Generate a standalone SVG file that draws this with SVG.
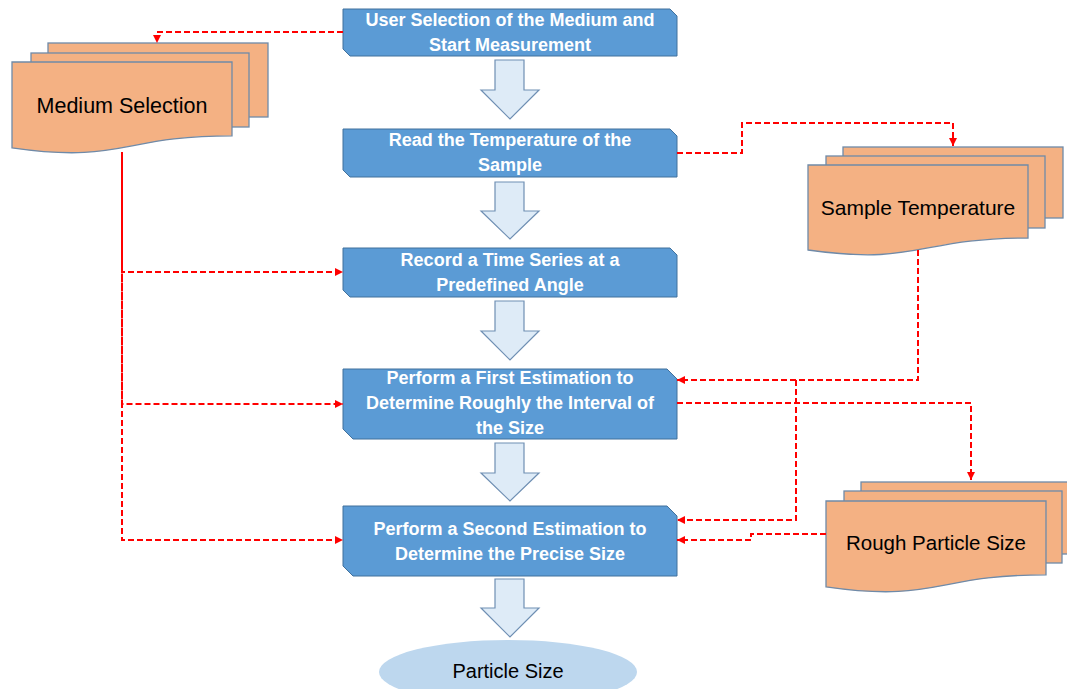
<svg xmlns="http://www.w3.org/2000/svg" width="1067" height="689" viewBox="0 0 1067 689">
  <style>
    .proc { fill: #5b9bd5; stroke: #41719c; stroke-width: 1; }
    .proc-text { font-family: "Liberation Sans", Arial, sans-serif; font-weight: bold; font-size: 18px; fill: #ffffff; text-anchor: middle; }
    .doc { fill: #f4b183; stroke: #6f8aa8; stroke-width: 1.3; }
    .doc-text { font-family: "Liberation Sans", Arial, sans-serif; font-size: 21px; fill: #000000; text-anchor: middle; }
    .flow { fill: #deebf7; stroke: #6f8fb3; stroke-width: 1.2; }
    .link { fill: none; stroke: #ff0000; stroke-width: 2; stroke-dasharray: 6 3; marker-end: url(#redArrow); }
    .term { fill: #bdd7ee; stroke: none; }
  </style>
  <defs>
    <marker id="redArrow" markerUnits="userSpaceOnUse" markerWidth="9" markerHeight="9" refX="8" refY="4" orient="auto">
      <path d="M0,0 L8,4 L0,8 Z" fill="#ff0000"/>
    </marker>
  </defs>

  <rect width="1067" height="689" fill="#ffffff"/>

  <!-- main process column -->
  <g id="step-start">
    <path class="proc" d="M343,9 H670 L677,16 V56 H350 L343,49 Z"/>
    <text class="proc-text" x="510" y="26">User Selection of the Medium and</text>
    <text class="proc-text" x="510" y="51">Start Measurement</text>
  </g>
  <g id="step-temperature">
    <path class="proc" d="M343,129 H670 L677,136 V177 H350 L343,170 Z"/>
    <text class="proc-text" x="510" y="146">Read the Temperature of the</text>
    <text class="proc-text" x="510" y="171">Sample</text>
  </g>
  <g id="step-timeseries">
    <path class="proc" d="M343,248 H670 L677,255 V297 H350 L343,290 Z"/>
    <text class="proc-text" x="510" y="266">Record a Time Series at a</text>
    <text class="proc-text" x="510" y="291">Predefined Angle</text>
  </g>
  <g id="step-first-estimation">
    <path class="proc" d="M343,369 H667 L677,379 V439 H353 L343,429 Z"/>
    <text class="proc-text" x="510" y="384">Perform a First Estimation to</text>
    <text class="proc-text" x="510" y="409">Determine Roughly the Interval of</text>
    <text class="proc-text" x="510" y="434">the Size</text>
  </g>
  <g id="step-second-estimation">
    <path class="proc" d="M343,506 H667 L677,516 V576 H353 L343,566 Z"/>
    <text class="proc-text" x="510" y="535">Perform a Second Estimation to</text>
    <text class="proc-text" x="510" y="560">Determine the Precise Size</text>
  </g>
  <g id="result">
    <ellipse class="term" cx="508" cy="672" rx="129" ry="32"/>
    <text class="doc-text" x="508" y="678" style="font-size:20px">Particle Size</text>
  </g>

  <!-- block arrows between steps -->
  <g id="flow-arrows">
    <path class="flow" d="M495,60 H524 V90 H539 L510,119 L481,90 H495 Z"/>
    <path class="flow" d="M495,182 H524 V211 H539 L510,239 L481,211 H495 Z"/>
    <path class="flow" d="M495,301 H524 V331 H539 L510,360 L481,331 H495 Z"/>
    <path class="flow" d="M495,443 H524 V473 H539 L510,501 L481,473 H495 Z"/>
    <path class="flow" d="M495,579 H524 V608 H539 L510,637 L481,608 H495 Z"/>
  </g>

  <!-- data stores -->
  <g id="medium-selection">
    <rect class="doc" x="48" y="43" width="220" height="74"/>
    <rect class="doc" x="31" y="53" width="218" height="74"/>
    <path class="doc" d="M12,62 H232 V135.8 C122,135.8 122,163.8 12,147.9 Z"/>
    <text class="doc-text" x="122" y="113" style="font-size:21.5px">Medium Selection</text>
  </g>
  <g id="sample-temperature">
    <rect class="doc" x="843" y="147" width="220" height="71"/>
    <rect class="doc" x="826" y="156" width="219" height="72"/>
    <path class="doc" d="M808,165 H1028 V238 C918,238 918,265.7 808,250 Z"/>
    <text class="doc-text" x="918" y="215">Sample Temperature</text>
  </g>
  <g id="rough-particle-size">
    <rect class="doc" x="861" y="482" width="220" height="72"/>
    <rect class="doc" x="844" y="491" width="218" height="72"/>
    <path class="doc" d="M826,501 H1046 V574.8 C936,574.8 936,602.8 826,586.9 Z"/>
    <text class="doc-text" x="936" y="550" style="font-size:20.5px">Rough Particle Size</text>
  </g>

  <!-- data connectors -->
  <g id="connectors">
    <path class="link" d="M343,32 H157 V43"/>
    <path class="link" d="M122,152 V272 H343"/>
    <path class="link" style="stroke-dashoffset:4.5" d="M122,152 V404 H343"/>
    <path class="link" style="stroke-dashoffset:2" d="M122,152 V540 H343"/>
    <path class="link" d="M677,153 H742 V123 H953 V146"/>
    <path class="link" d="M918,250 V380 H677"/>
    <path class="link" d="M918,250 V380 H796 V520 H677"/>
    <path class="link" d="M677,403 H971 V480"/>
    <path class="link" d="M826,534 H751 V540 H677"/>
  </g>
</svg>
